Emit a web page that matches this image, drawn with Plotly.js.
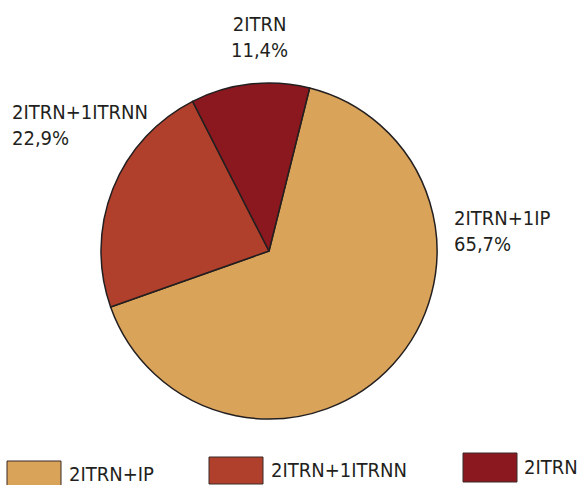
<!DOCTYPE html>
<html>
<head>
<meta charset="utf-8">
<script src="https://cdn.plot.ly/plotly-3.0.1.min.js"></script>
<style>html,body{margin:0;padding:0;background:#fff;}#chart{width:582px;height:485px;}</style>
</head>
<body>
<div id="chart"></div>
<script>
var sliceLabels = ["2ITRN+1IP", "2ITRN+1ITRNN", "2ITRN"];
var legendLabels = ["2ITRN+IP", "2ITRN+1ITRNN", "2ITRN"];
var values = [65.7, 22.9, 11.4];
var valueText = ["65,7%", "22,9%", "11,4%"];
var colors = ["#D9A35A", "#B0402B", "#8A181E"];

var FONT = "'Liberation Sans Narrow', 'DejaVu Sans Condensed', 'Arial Narrow', sans-serif";
var TXT = "#231F20";

var trace = {
  type: "pie",
  labels: sliceLabels,
  values: values,
  sort: false,
  direction: "clockwise",
  rotation: 14,
  textinfo: "none",
  hoverinfo: "label+percent",
  marker: {colors: colors, line: {color: "#231F20", width: 1.5}},
  domain: {x: [101/582, 437/582], y: [66/485, 402/485]},
  showlegend: false
};

var labelPos = [
  {x: 452/582, y: 1 - 231/485, xanchor: "left"},
  {x: 10/582, y: 1 - 125/485, xanchor: "left"},
  {x: 259/582, y: 1 - 37/485, xanchor: "center"}
];

var annotations = [];
var shapes = [];
for (var i = 0; i < sliceLabels.length; i++) {
  annotations.push({
    xref: "paper", yref: "paper",
    x: labelPos[i].x, y: labelPos[i].y,
    xanchor: labelPos[i].xanchor, yanchor: "middle",
    align: labelPos[i].xanchor === "center" ? "center" : "left",
    text: sliceLabels[i] + "<br>" + valueText[i],
    showarrow: false,
    font: {family: FONT, size: 20, color: TXT}
  });
}

var legendItems = [
  {x0: 7, x1: 61, y0: 461, y1: 490, tx: 67, ty: 474},
  {x0: 209, x1: 263, y0: 457, y1: 484, tx: 269, ty: 470},
  {x0: 463, x1: 517, y0: 453, y1: 482, tx: 522, ty: 467}
];
for (var j = 0; j < legendLabels.length; j++) {
  var L = legendItems[j];
  shapes.push({
    type: "rect", xref: "paper", yref: "paper",
    x0: L.x0/582, x1: L.x1/582, y0: 1 - L.y1/485, y1: 1 - L.y0/485,
    fillcolor: colors[j], line: {color: "#3a2a28", width: 1}
  });
  annotations.push({
    xref: "paper", yref: "paper",
    x: L.tx/582, y: 1 - L.ty/485,
    xanchor: "left", yanchor: "middle",
    text: legendLabels[j], showarrow: false,
    font: {family: FONT, size: 20, color: TXT}
  });
}

var layout = {
  width: 582, height: 485,
  margin: {l: 0, r: 0, t: 0, b: 0},
  paper_bgcolor: "#ffffff",
  plot_bgcolor: "#ffffff",
  annotations: annotations,
  shapes: shapes,
  showlegend: false
};

Plotly.newPlot("chart", [trace], layout, {displayModeBar: false, staticPlot: true});
</script>
</body>
</html>
